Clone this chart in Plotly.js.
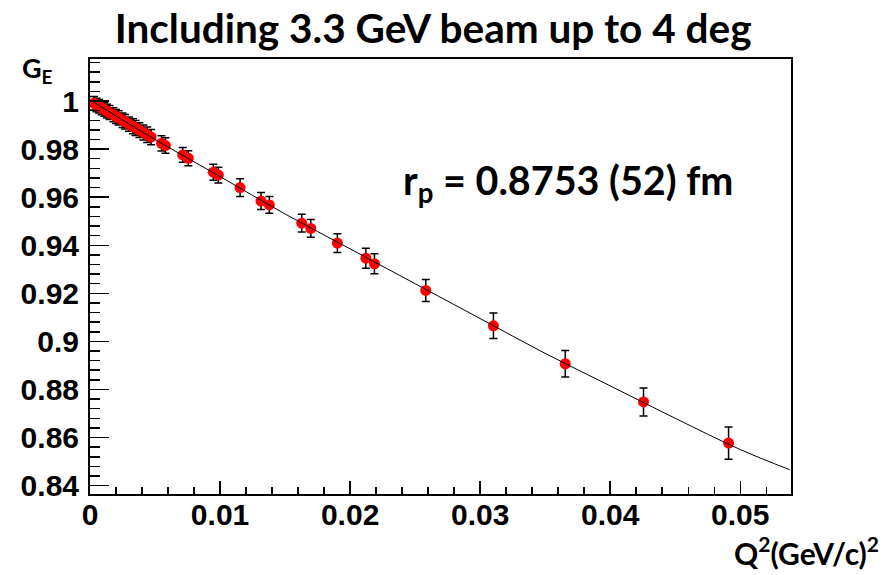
<!DOCTYPE html>
<html>
<head>
<meta charset="utf-8">
<script src="https://cdn.plot.ly/plotly-3.0.1.min.js"></script>
<style>
html,body{margin:0;padding:0;background:#fff;}
#chart{width:884px;height:575px;}
</style>
</head>
<body>
<div id="chart"></div>
<script>
// Measured data points: Q^2 (GeV/c)^2, G_E, error
const q2 = [0.0003, 0.0005, 0.0007, 0.0009, 0.0011, 0.0013, 0.0015, 0.0018, 0.0020, 0.0022,
            0.0025, 0.0027, 0.0030, 0.0033, 0.0035, 0.0038, 0.0041, 0.0044, 0.0047, 0.0055,
            0.0058, 0.00713, 0.00756, 0.00948, 0.00987, 0.01154, 0.01315, 0.01379, 0.01628, 0.01698,
            0.01902, 0.02121, 0.02187, 0.02582, 0.03102, 0.03654, 0.04256, 0.0491];
const ge = [0.9991, 0.9984, 0.9978, 0.9971, 0.9965, 0.9958, 0.9952, 0.9943, 0.9936, 0.9930,
            0.9920, 0.9914, 0.9904, 0.9895, 0.9888, 0.9879, 0.9869, 0.9860, 0.9850, 0.9824,
            0.9815, 0.9776, 0.9762, 0.9704, 0.9692, 0.9640, 0.9584, 0.9568, 0.9492, 0.9470,
            0.9409, 0.9346, 0.9323, 0.9212, 0.9065, 0.8907, 0.8748, 0.8577];
const geErr = [0.0028, 0.0028, 0.0028, 0.0028, 0.0028, 0.0029, 0.0029, 0.0029, 0.0029, 0.0030,
               0.0030, 0.0030, 0.0030, 0.0031, 0.0031, 0.0031, 0.0031, 0.0032, 0.0032, 0.0032,
               0.0032, 0.0031, 0.0031, 0.0033, 0.0033, 0.0037, 0.0035, 0.0035, 0.0037, 0.0037,
               0.0039, 0.0042, 0.0042, 0.0046, 0.0053, 0.0055, 0.0058, 0.0067];

// Fit curve
const fitQ2 = [0, 0.005, 0.01, 0.015, 0.02, 0.025, 0.03, 0.035, 0.04, 0.045, 0.05, 0.0538];
const fitGE = [1.0005, 0.984, 0.9686, 0.953, 0.9385, 0.924, 0.9095, 0.895, 0.8815, 0.868, 0.855, 0.8466];

const titleText = "Including 3.3 GeV beam up to 4 deg";
const radiusText = "r<sub>p</sub> = 0.8753 (52) fm";
const yLabel = "G<sub>E</sub>";
const xLabel = "Q<sup>2</sup>(GeV/c)<sup>2</sup>";

const traces = [
  {
    x: q2, y: ge, type: 'scatter', mode: 'markers',
    marker: {color: '#ff0000', size: 11, line: {width: 0}},
    error_y: {type: 'data', array: geErr, visible: true, color: '#000000', thickness: 1.5, width: 4},
    hoverinfo: 'skip'
  },
  {
    x: fitQ2, y: fitGE, type: 'scatter', mode: 'lines',
    line: {color: '#000000', width: 1, shape: 'spline'},
    hoverinfo: 'skip'
  }
];

const tickFont = {family: 'Liberation Sans, Arial, sans-serif', size: 30, color: '#000', weight: 'bold'};
const labelFont = {family: 'Lato, Open Sans, sans-serif', color: '#000', weight: 'bold'};

const layout = {
  width: 884, height: 575,
  margin: {l: 90, r: 93, t: 59, b: 81},
  paper_bgcolor: '#fff', plot_bgcolor: '#fff',
  showlegend: false,
  title: {text: titleText, font: {family: 'Lato, Open Sans, sans-serif', size: 40.5, color: '#000', weight: 'bold'},
          x: 0.49, xanchor: 'center', y: 0.95, yanchor: 'middle'},
  xaxis: {
    range: [0, 0.0539], tick0: 0, dtick: 0.01, showgrid: false, zeroline: false,
    showline: true, linecolor: '#000', linewidth: 2, mirror: true,
    ticks: 'inside', ticklen: 13, tickwidth: 1.5, tickcolor: '#000',
    minor: {dtick: 0.002, ticks: 'inside', ticklen: 7, tickwidth: 1.5, tickcolor: '#000', showgrid: false},
    tickfont: tickFont, ticklabelstandoff: -7
  },
  yaxis: {
    range: [0.8365, 1.0175], tick0: 0.84, dtick: 0.02, showgrid: false, zeroline: false,
    showline: true, linecolor: '#000', linewidth: 2, mirror: true,
    ticks: 'inside', ticklen: 19, tickwidth: 1.5, tickcolor: '#000',
    minor: {dtick: 0.004, ticks: 'inside', ticklen: 10, tickwidth: 1.5, tickcolor: '#000', showgrid: false},
    tickfont: tickFont, ticklabelstandoff: 3
  },
  annotations: [
    {text: radiusText, xref: 'paper', yref: 'paper', x: 0.682, y: 0.715, xanchor: 'center', yanchor: 'middle',
     showarrow: false, font: Object.assign({size: 39.5}, labelFont)},
    {text: yLabel, xref: 'paper', yref: 'paper', x: -0.1, y: 0.975, xanchor: 'left', yanchor: 'middle',
     showarrow: false, font: Object.assign({size: 27}, labelFont)},
    {text: xLabel, xref: 'paper', yref: 'paper', x: 1.128, y: -0.08, xanchor: 'right', yanchor: 'top',
     showarrow: false, font: Object.assign({size: 30}, labelFont)}
  ]
};

Plotly.newPlot('chart', traces, layout, {displayModeBar: false, staticPlot: true});
</script>
</body>
</html>
